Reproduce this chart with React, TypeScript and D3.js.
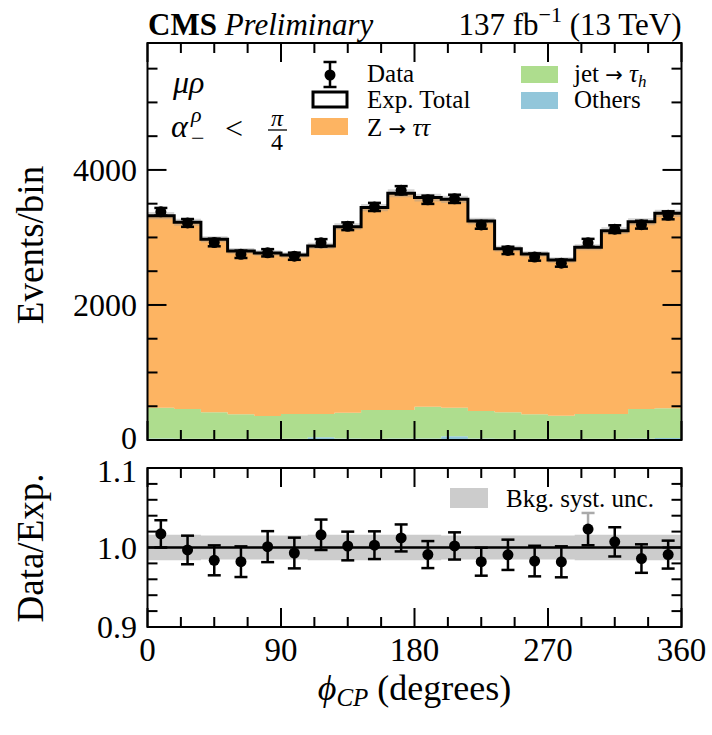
import React from 'react';
import * as d3 from 'd3';

// phi_CP bins, 20 x 18 degrees
const binWidth = 18;
const edges = d3.range(21).map(i => i * binWidth);

// stacked expectation (events / bin)
const zTauTau = [2844, 2766, 2563, 2420, 2414, 2356, 2489, 2755, 2998, 3210, 3096, 3086, 2814, 2424, 2376, 2307, 2470, 2716, 2775, 2889];
const jetFakes = [457, 439, 392, 362, 338, 367, 345, 383, 424, 422, 472, 424, 408, 390, 362, 342, 365, 365, 437, 439];
const others = [22, 20, 18, 18, 18, 18, 40, 22, 20, 22, 22, 55, 22, 20, 18, 18, 20, 20, 22, 30];

// observed data
const dataCounts = [3380, 3215, 2925, 2750, 2773, 2722, 2920, 3166, 3452, 3698, 3558, 3572, 3186, 2808, 2709, 2619, 2921, 3123, 3189, 3328];
const dataErr = [57, 58, 56, 54, 54, 53, 55, 57, 60, 62, 61, 61, 57, 54, 53, 52, 58, 57, 58, 59];

// relative background systematic uncertainty
const bkgSyst = [0.016, 0.016, 0.015, 0.015, 0.015, 0.015, 0.016, 0.016, 0.016, 0.016, 0.016, 0.015, 0.015, 0.015, 0.015, 0.015, 0.016, 0.016, 0.016, 0.016];

const xMajor = [0, 90, 180, 270, 360];
const xMinor = d3.range(0, 360.01, 22.5);
const yMajor = [0, 2000, 4000];
const yMinor = d3.range(0, 5881, 500);
const rMajor = [0.9, 1.0, 1.1];
const rMinor = d3.range(0.9, 1.1001, 0.02);

const W = 712, H = 735;
const left = 147.5, right = 681.5;
const mainTop = 43, mainBottom = 440;
const ratioTop = 468, ratioBottom = 627;

const orange = '#fdb462';
const green = '#aedd8e';
const blue = '#92c6da';
const font = '"Liberation Serif", "Times New Roman", serif';
const arrowFont = '"DejaVu Sans", sans-serif';

type P = { x: number; lo: number; hi: number };

const stepPts = (lo: number[], hi: number[]): P[] =>
  lo.flatMap((l, i) => [
    { x: edges[i], lo: l, hi: hi[i] },
    { x: edges[i + 1], lo: l, hi: hi[i] },
  ]);

export default function App() {
  const x = d3.scaleLinear().domain([0, 360]).range([left, right]);
  const y = d3.scaleLinear().domain([0, 5880]).range([mainBottom, mainTop]);
  const yr = d3.scaleLinear().domain([0.9, 1.1]).range([ratioBottom, ratioTop]);

  const rows = zTauTau.map((z, i) => ({ others: others[i], jet: jetFakes[i], ztt: z }));
  const stacked = d3.stack<any>().keys(['others', 'jet', 'ztt'])(rows);
  const total = rows.map(r => r.others + r.jet + r.ztt);
  const colors: Record<string, string> = { others: blue, jet: green, ztt: orange };

  const areaMain = d3.area<P>().x(d => x(d.x)).y0(d => y(d.lo)).y1(d => y(d.hi));
  const areaRatio = d3.area<P>().x(d => x(d.x)).y0(d => yr(d.lo)).y1(d => yr(d.hi));
  const lineTop = d3.line<P>().x(d => x(d.x)).y(d => y(d.hi));

  const bandMain = stepPts(
    total.map((t, i) => t * (1 - bkgSyst[i])),
    total.map((t, i) => t * (1 + bkgSyst[i]))
  );
  const bandRatio = stepPts(bkgSyst.map(u => 1 - u), bkgSyst.map(u => 1 + u));
  const totalLine = stepPts(total, total);

  const centers = edges.slice(0, -1).map(e => e + binWidth / 2);
  const ratio = dataCounts.map((d, i) => d / total[i]);
  const ratioErr = dataErr.map((e, i) => e / total[i]);

  const capW = 6.5;
  const errorBar = (cx: number, cy: number, yUp: number, yDn: number, key: string, upColor = '#000') => (
    <g key={key}>
      <line x1={cx} x2={cx} y1={cy} y2={yUp} stroke={upColor} strokeWidth={2.5} />
      <line x1={cx - capW} x2={cx + capW} y1={yUp} y2={yUp} stroke={upColor} strokeWidth={2.5} />
      <line x1={cx} x2={cx} y1={cy} y2={yDn} stroke="#000" strokeWidth={2.5} />
      <line x1={cx - capW} x2={cx + capW} y1={yDn} y2={yDn} stroke="#000" strokeWidth={2.5} />
      <circle cx={cx} cy={cy} r={5.5} fill="#000" />
    </g>
  );

  const xTicks = (yTop: number, yBot: number, pre: string) => (
    <g>
      {xMinor.map(v => {
        const len = xMajor.includes(v) ? 19 : 10;
        return (
          <g key={pre + v}>
            <line x1={x(v)} x2={x(v)} y1={yBot} y2={yBot - len} stroke="#000" strokeWidth={2} />
            <line x1={x(v)} x2={x(v)} y1={yTop} y2={yTop + len} stroke="#000" strokeWidth={2} />
          </g>
        );
      })}
    </g>
  );

  const yTicks = (vals: number[], majors: number[], sc: (v: number) => number, pre: string) => (
    <g>
      {vals.map(v => {
        const isMajor = majors.some(m => Math.abs(m - v) < 1e-6);
        const len = isMajor ? 19 : 10;
        return (
          <g key={pre + v}>
            <line x1={left} x2={left + len} y1={sc(v)} y2={sc(v)} stroke="#000" strokeWidth={2} />
            <line x1={right} x2={right - len} y1={sc(v)} y2={sc(v)} stroke="#000" strokeWidth={2} />
          </g>
        );
      })}
    </g>
  );

  return (
    <svg width={W} height={H} style={{ position: 'absolute', left: 0, top: 0, background: '#fff' }} fontFamily={font}>
      {/* main panel: stacked histogram */}
      {stacked.map(s => (
        <path
          key={s.key}
          d={areaMain(stepPts(s.map(d => d[0]), s.map(d => d[1]))) || ''}
          fill={colors[s.key]}
        />
      ))}
      <path d={areaMain(bandMain) || ''} fill="#999" fillOpacity={0.4} />
      <path d={lineTop(totalLine) || ''} fill="none" stroke="#000" strokeWidth={3} />
      {centers.map((c, i) =>
        errorBar(x(c), y(dataCounts[i]), y(dataCounts[i] + dataErr[i]), y(dataCounts[i] - dataErr[i]), 'm' + i)
      )}

      {xTicks(mainTop, mainBottom, 'mx')}
      {yTicks(yMinor, yMajor, y, 'my')}
      <rect x={left} y={mainTop} width={right - left} height={mainBottom - mainTop} fill="none" stroke="#000" strokeWidth={2} />

      {yMajor.map(v => (
        <text key={'yl' + v} x={137} y={y(v) - (v === 0 ? 2 : 0)} dy="0.35em" textAnchor="end" fontSize={32}>{v}</text>
      ))}
      <text transform={`translate(43,245) rotate(-90)`} textAnchor="middle" fontSize={37}>Events/bin</text>

      {/* header */}
      <text x={148} y={35} fontSize={31}>
        <tspan fontWeight="bold">CMS</tspan>
        <tspan fontStyle="italic"> Preliminary</tspan>
      </text>
      <text x={right} y={35} fontSize={31} textAnchor="end">
        137 fb<tspan dy={-13} fontSize={22}>−1</tspan><tspan dy={13}> (13 TeV)</tspan>
      </text>

      {/* category label */}
      <text x={173} y={93} fontSize={32} fontStyle="italic">μρ</text>
      <text x={171} y={137} fontSize={32} fontStyle="italic">α</text>
      <text x={191} y={122} fontSize={22} fontStyle="italic">ρ</text>
      <text x={191} y={146} fontSize={24}>−</text>
      <text x={225} y={139} fontSize={32}>&lt;</text>
      <text x={277} y={126} fontSize={24} fontStyle="italic" textAnchor="middle">π</text>
      <line x1={268} x2={287} y1={130} y2={130} stroke="#000" strokeWidth={1.3} />
      <text x={277} y={150} fontSize={24} textAnchor="middle">4</text>

      {/* legend */}
      {errorBar(330, 75, 62, 87, 'leg')}
      <text x={367} y={82} fontSize={25}>Data</text>
      <rect x={313} y={92} width={34} height={15} fill="#fff" stroke="#000" strokeWidth={3} />
      <text x={367} y={108} fontSize={25}>Exp. Total</text>
      <rect x={311} y={118} width={37} height={17} fill={orange} />
      <text x={367} y={136} fontSize={25}>
        Z <tspan fontFamily={arrowFont} fontSize={21}>→</tspan> <tspan fontStyle="italic">ττ</tspan>
      </text>
      <rect x={521} y={66} width={37} height={17} fill={green} />
      <text x={574} y={82} fontSize={25}>
        jet <tspan fontFamily={arrowFont} fontSize={21}>→</tspan> <tspan fontStyle="italic">τ</tspan><tspan fontStyle="italic" fontSize={17} dy={5}>h</tspan>
      </text>
      <rect x={521} y={92} width={37} height={17} fill={blue} />
      <text x={574} y={108} fontSize={25}>Others</text>

      {/* ratio panel */}
      <path d={areaRatio(bandRatio) || ''} fill="#cccccc" />
      <line x1={left} x2={right} y1={yr(1)} y2={yr(1)} stroke="#000" strokeWidth={2.5} />
      {centers.map((c, i) =>
        errorBar(
          x(c),
          yr(ratio[i]),
          yr(ratio[i] + ratioErr[i]),
          yr(ratio[i] - ratioErr[i]),
          'r' + i,
          i === 16 ? '#aaa' : '#000'
        )
      )}
      <rect x={450} y={488} width={38} height={20} fill="#cccccc" />
      <text x={506} y={507} fontSize={25}>Bkg. syst. unc.</text>

      {xTicks(ratioTop, ratioBottom, 'rx')}
      {yTicks(rMinor, rMajor, yr, 'ry')}
      <rect x={left} y={ratioTop} width={right - left} height={ratioBottom - ratioTop} fill="none" stroke="#000" strokeWidth={2} />

      {rMajor.map(v => (
        <text key={'rl' + v} x={137} y={yr(v) + (v > 1.05 ? 3 : 0)} dy="0.35em" textAnchor="end" fontSize={32}>{v.toFixed(1)}</text>
      ))}
      <text transform={`translate(43,548) rotate(-90)`} textAnchor="middle" fontSize={37}>Data/Exp.</text>

      {xMajor.map(v => (
        <text key={'xl' + v} x={x(v)} y={661} textAnchor="middle" fontSize={33}>{v}</text>
      ))}
      <text x={(left + right) / 2} y={700} textAnchor="middle" fontSize={36}>
        <tspan fontStyle="italic">ϕ</tspan><tspan fontStyle="italic" fontSize={25} dy={6}>CP</tspan>
        <tspan dy={-6}> (degrees)</tspan>
      </text>
    </svg>
  );
}
